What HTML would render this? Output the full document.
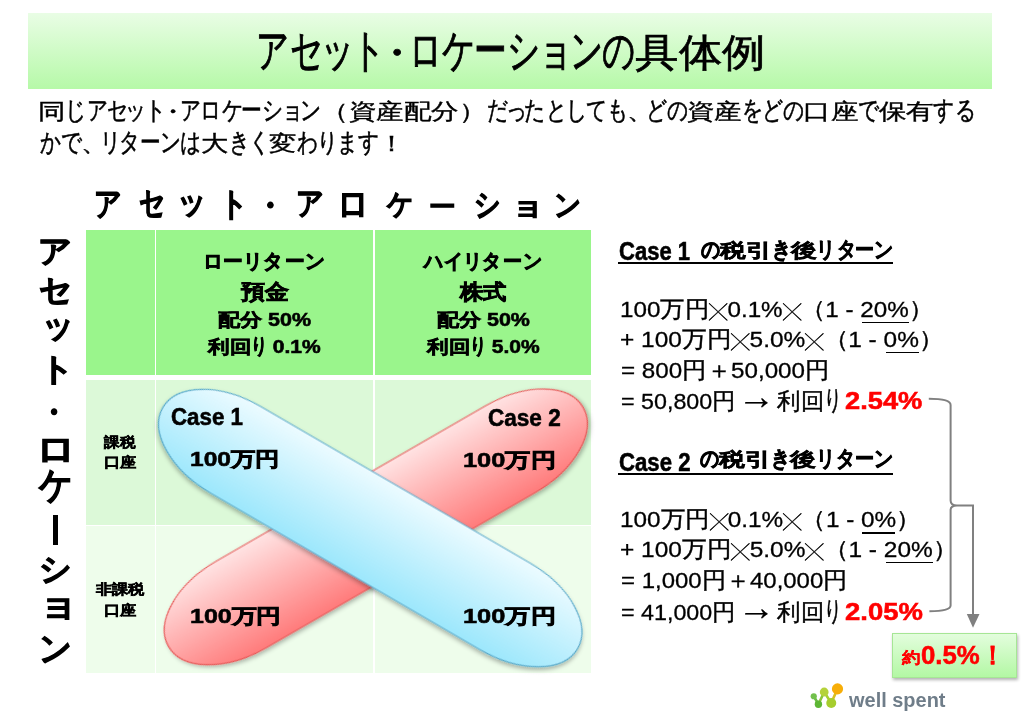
<!DOCTYPE html><html lang="ja"><head><meta charset="utf-8"><style>
html,body{margin:0;padding:0;background:#fff;}
body{width:1024px;height:718px;position:relative;overflow:hidden;font-family:"Liberation Sans",sans-serif;}
.t{position:absolute;white-space:nowrap;line-height:1.3;transform-origin:0 0;}
 .k,.s,.d,.p{display:inline-block;} .k i,.s i,.d i,.p i{display:inline-block;font-style:normal;} .k{width:.75em} .k i{font-size:1.17em;margin:0 -.19em;transform:scaleX(.64)} .s{width:.66em} .s i{font-size:1.17em;margin:0 -.23em;transform:scaleX(.64)} .d{width:.56em} .d i{margin:0 -.22em} .p{width:.7em} .p i{margin-right:-.3em}
.x{font-size:.74em} .ar{font-size:1.6em;margin:0 -.12em} .h,.d i,.p i{-webkit-text-stroke-width:var(--st)} .k i,.s i{-webkit-text-stroke-width:calc(var(--st)*1.35)} u{text-decoration:underline;text-decoration-thickness:1.5px;text-underline-offset:2px;}
</style></head><body><div style="position:absolute;left:28px;top:12.6px;width:964px;height:76px;background:linear-gradient(#e9fde5,#b6f9a8)"></div>
<div style="position:absolute;left:86px;top:230px;width:505.3px;height:442.8px;background:#fff"></div>
<div style="position:absolute;left:86px;top:230px;width:68.7px;height:145.4px;background:#9af58c"></div>
<div style="position:absolute;left:156px;top:230px;width:216.7px;height:145.4px;background:#9af58c"></div>
<div style="position:absolute;left:374.5px;top:230px;width:216.8px;height:145.4px;background:#9af58c"></div>
<div style="position:absolute;left:86px;top:379.6px;width:68.7px;height:145.2px;background:#dcf9d8"></div>
<div style="position:absolute;left:156px;top:379.6px;width:216.7px;height:145.2px;background:#dcf9d8"></div>
<div style="position:absolute;left:374.5px;top:379.6px;width:216.8px;height:145.2px;background:#dcf9d8"></div>
<div style="position:absolute;left:86px;top:526px;width:68.7px;height:146.8px;background:#eefdeb"></div>
<div style="position:absolute;left:156px;top:526px;width:216.7px;height:146.8px;background:#eefdeb"></div>
<div style="position:absolute;left:374.5px;top:526px;width:216.8px;height:146.8px;background:#eefdeb"></div>
<svg width="1024" height="718" style="position:absolute;left:0;top:0">
<defs>
<linearGradient id="gb" x1="0" y1="0" x2="0" y2="1"><stop offset="0" stop-color="#ecfbff"/><stop offset="1" stop-color="#9ce7fc"/></linearGradient>
<linearGradient id="gr" x1="0" y1="0" x2="0" y2="1"><stop offset="0" stop-color="#ffe3e3"/><stop offset="1" stop-color="#ff7b7b"/></linearGradient>
<filter id="sh" x="-10%" y="-30%" width="120%" height="160%"><feDropShadow dx="1" dy="2.5" stdDeviation="2" flood-color="#000" flood-opacity="0.3"/></filter>
</defs>
<path transform="translate(375.80,526.90) rotate(-29.98)" d="M-155.30,-50 L155.30,-50 A84,50 0 0 1 155.30,50 L-155.30,50 A84,50 0 0 1 -155.30,-50 Z" fill="url(#gr)" stroke="#e85555" stroke-width="1.2" filter="url(#sh)"/>
<path transform="translate(370.25,528.05) rotate(30.17)" d="M-155.85,-50 L155.85,-50 A84,50 0 0 1 155.85,50 L-155.85,50 A84,50 0 0 1 -155.85,-50 Z" fill="url(#gb)" stroke="#56aacc" stroke-width="1.2" filter="url(#sh)"/>
<path d="M928.8,398.8 Q950.6,398.8 950.6,405 L950.6,500.5 Q950.6,505.5 957,505.5 Q950.6,505.5 950.6,510 L950.6,605.5 Q950.6,611.2 929.4,611.2" fill="none" stroke="#808080" stroke-width="2"/>
<path d="M957,505.5 L973,505.5 L973,615" fill="none" stroke="#808080" stroke-width="2"/>
<path d="M966.8,614.1 L979.5,614.1 L973,627.8 Z" fill="#808080"/>
</svg>
<div style="position:absolute;left:892.3px;top:633.3px;width:122.7px;height:43.1px;background:linear-gradient(#e3fddd,#b3f8a4);border:1px solid #a6e695;box-shadow:1px 2px 3px rgba(0,0,0,.3)"></div>
<svg width="40" height="30" style="position:absolute;left:806px;top:682px" viewBox="806 682 40 30">
<g stroke-width="2.6" fill="none" stroke-linecap="round">
<path d="M813.75,696.25 L818.4,704.2" stroke="#6abd45"/>
<path d="M818.4,704.2 L824.2,692" stroke="#8cc53a"/>
<path d="M824.2,692 L831.25,703" stroke="#a8cf30"/>
<path d="M831.25,703 L837.5,688.9" stroke="#d8c020"/>
</g>
<circle cx="813.75" cy="696.25" r="3.1" fill="#72c04c"/>
<circle cx="818.4" cy="704.2" r="3.7" fill="#5db634"/>
<circle cx="824.2" cy="692" r="4.4" fill="#b5d23a"/>
<circle cx="831.25" cy="703" r="5" fill="#a6cd2e"/>
<circle cx="837.5" cy="688.9" r="5.6" fill="#f7ae08"/>
</svg>
<div class="t" id="title" style="left:257.20px;top:20.00px;font-size:39.49px;font-weight:400;color:#000;--st:0.71px;-webkit-text-stroke:0.3px #000;transform:scaleX(1.1108)"><span class=k><i>ア</i></span><span class=k><i>セ</i></span><span class=s><i>ッ</i></span><span class=k><i>ト</i></span><span class=d><i>・</i></span><span class=k><i>ロ</i></span><span class=k><i>ケ</i></span><span class=k><i>ー</i></span><span class=k><i>シ</i></span><span class=s><i>ョ</i></span><span class=k><i>ン</i></span><span class=k><i>の</i></span><span class=h>具</span><span class=h>体</span><span class=h>例</span></div><div class="t" id="sub1" style="left:38.30px;top:93.60px;font-size:21.80px;font-weight:400;color:#000;--st:0.39px;-webkit-text-stroke:0.3px #000;transform:scaleX(1.2508)"><span class=h>同</span><span class=k><i>じ</i></span><span class=k><i>ア</i></span><span class=k><i>セ</i></span><span class=s><i>ッ</i></span><span class=k><i>ト</i></span><span class=d><i>・</i></span><span class=k><i>ア</i></span><span class=k><i>ロ</i></span><span class=k><i>ケ</i></span><span class=k><i>ー</i></span><span class=k><i>シ</i></span><span class=s><i>ョ</i></span><span class=k><i>ン</i></span><span class=h>（</span><span class=h>資</span><span class=h>産</span><span class=h>配</span><span class=h>分</span><span class=h>）</span><span class=k><i>だ</i></span><span class=s><i>っ</i></span><span class=k><i>た</i></span><span class=k><i>と</i></span><span class=k><i>し</i></span><span class=k><i>て</i></span><span class=k><i>も</i></span><span class=p><i>、</i></span><span class=k><i>ど</i></span><span class=k><i>の</i></span><span class=h>資</span><span class=h>産</span><span class=k><i>を</i></span><span class=k><i>ど</i></span><span class=k><i>の</i></span><span class=h>口</span><span class=h>座</span><span class=k><i>で</i></span><span class=h>保</span><span class=h>有</span><span class=k><i>す</i></span><span class=k><i>る</i></span></div><div class="t" id="sub2" style="left:40.00px;top:126.00px;font-size:21.80px;font-weight:400;color:#000;--st:0.39px;-webkit-text-stroke:0.3px #000;transform:scaleX(1.2435)"><span class=k><i>か</i></span><span class=k><i>で</i></span><span class=p><i>、</i></span><span class=k><i>リ</i></span><span class=k><i>タ</i></span><span class=k><i>ー</i></span><span class=k><i>ン</i></span><span class=k><i>は</i></span><span class=h>大</span><span class=k><i>き</i></span><span class=k><i>く</i></span><span class=h>変</span><span class=k><i>わ</i></span><span class=k><i>り</i></span><span class=k><i>ま</i></span><span class=k><i>す</i></span><span class=h>！</span></div><div class="t" id="c1h" style="left:618.50px;top:234.80px;font-size:25.26px;font-weight:700;color:#000;--st:0.91px;-webkit-text-stroke:0.55px #000;transform:scaleX(0.8725)">Case 1</div><div class="t" id="c1hj" style="left:700.60px;top:235.50px;font-size:19.01px;font-weight:700;color:#000;--st:0.55px;-webkit-text-stroke:0.55px #000;transform:scaleX(1.3536)"><span class=k><i>の</i></span><span class=h>税</span><span class=h>引</span><span class=k><i>き</i></span><span class=h>後</span><span class=k><i>リ</i></span><span class=k><i>タ</i></span><span class=k><i>ー</i></span><span class=k><i>ン</i></span></div><div class="t" id="c1l1" style="left:620.10px;top:295.10px;font-size:22.79px;font-weight:400;color:#000;--st:0.41px;-webkit-text-stroke:0.3px #000;transform:scaleX(1.0636)">100<span class=h>万</span><span class=h>円</span><span class=x><span class=h>╳</span></span>0.1%<span class=x><span class=h>╳</span></span><span class=h>（</span>1 - 20%<span class=h>）</span></div><div class="t" id="c1l2" style="left:619.50px;top:325.00px;font-size:22.79px;font-weight:400;color:#000;--st:0.41px;-webkit-text-stroke:0.3px #000;transform:scaleX(1.0735)">+ 100<span class=h>万</span><span class=h>円</span><span class=x><span class=h>╳</span></span>5.0%<span class=x><span class=h>╳</span></span><span class=h>（</span>1 - 0%<span class=h>）</span></div><div class="t" id="c1l3" style="left:620.60px;top:355.50px;font-size:22.79px;font-weight:400;color:#000;--st:0.41px;-webkit-text-stroke:0.3px #000;transform:scaleX(1.0614)">= 800<span class=h>円</span><span class=h>＋</span>50,000<span class=h>円</span></div><div class="t" id="c1l4" style="left:621.00px;top:373.00px;font-size:22.79px;font-weight:400;color:#000;--st:0.41px;-webkit-text-stroke:0.3px #000;transform:scaleX(1.0217)">= 50,800<span class=h>円</span> <span class=ar>→</span> <span class=h>利</span><span class=h>回</span><span class=k><i>り</i></span></div><div class="t" id="c1r" style="left:844.70px;top:385.20px;font-size:24.62px;font-weight:700;color:#ff0000;--st:0.89px;-webkit-text-stroke:0.55px #ff0000;transform:scaleX(1.1081)">2.54%</div><div class="t" id="c2h" style="left:618.50px;top:446.00px;font-size:25.26px;font-weight:700;color:#000;--st:0.91px;-webkit-text-stroke:0.55px #000;transform:scaleX(0.8782)">Case 2</div><div class="t" id="c2hj" style="left:699.60px;top:445.40px;font-size:19.01px;font-weight:700;color:#000;--st:0.55px;-webkit-text-stroke:0.55px #000;transform:scaleX(1.3582)"><span class=k><i>の</i></span><span class=h>税</span><span class=h>引</span><span class=k><i>き</i></span><span class=h>後</span><span class=k><i>リ</i></span><span class=k><i>タ</i></span><span class=k><i>ー</i></span><span class=k><i>ン</i></span></div><div class="t" id="c2l1" style="left:619.60px;top:505.30px;font-size:22.79px;font-weight:400;color:#000;--st:0.41px;-webkit-text-stroke:0.3px #000;transform:scaleX(1.0670)">100<span class=h>万</span><span class=h>円</span><span class=x><span class=h>╳</span></span>0.1%<span class=x><span class=h>╳</span></span><span class=h>（</span>1 - 0%<span class=h>）</span></div><div class="t" id="c2l2" style="left:619.50px;top:535.20px;font-size:22.79px;font-weight:400;color:#000;--st:0.41px;-webkit-text-stroke:0.3px #000;transform:scaleX(1.0744)">+ 100<span class=h>万</span><span class=h>円</span><span class=x><span class=h>╳</span></span>5.0%<span class=x><span class=h>╳</span></span><span class=h>（</span>1 - 20%<span class=h>）</span></div><div class="t" id="c2l3" style="left:621.00px;top:566.00px;font-size:22.79px;font-weight:400;color:#000;--st:0.41px;-webkit-text-stroke:0.3px #000;transform:scaleX(1.0516)">= 1,000<span class=h>円</span><span class=h>＋</span>40,000<span class=h>円</span></div><div class="t" id="c2l4" style="left:621.00px;top:583.50px;font-size:22.79px;font-weight:400;color:#000;--st:0.41px;-webkit-text-stroke:0.3px #000;transform:scaleX(1.0217)">= 41,000<span class=h>円</span> <span class=ar>→</span> <span class=h>利</span><span class=h>回</span><span class=k><i>り</i></span></div><div class="t" id="c2r" style="left:844.70px;top:595.70px;font-size:24.62px;font-weight:700;color:#ff0000;--st:0.89px;-webkit-text-stroke:0.55px #ff0000;transform:scaleX(1.1151)">2.05%</div><div class="t" id="h1a" style="left:203.50px;top:247.70px;font-size:17.51px;font-weight:700;color:#000;--st:0.63px;-webkit-text-stroke:0.55px #000;transform:scaleX(1.5396)"><span class=k><i>ロ</i></span><span class=k><i>ー</i></span><span class=k><i>リ</i></span><span class=k><i>タ</i></span><span class=k><i>ー</i></span><span class=k><i>ン</i></span></div><div class="t" id="h1b" style="left:241.00px;top:279.10px;font-size:20.63px;font-weight:700;color:#000;--st:0.74px;-webkit-text-stroke:0.55px #000;transform:scaleX(1.1366)"><span class=h>預</span><span class=h>金</span></div><div class="t" id="h1c" style="left:217.50px;top:309.25px;font-size:17.54px;font-weight:700;color:#000;--st:0.63px;-webkit-text-stroke:0.55px #000;transform:scaleX(1.2240)"><span class=h>配</span><span class=h>分</span> 50%</div><div class="t" id="h1d" style="left:208.20px;top:332.85px;font-size:17.54px;font-weight:700;color:#000;--st:0.63px;-webkit-text-stroke:0.55px #000;transform:scaleX(1.1987)"><span class=h>利</span><span class=h>回</span><span class=k><i>り</i></span> 0.1%</div><div class="t" id="h2a" style="left:425.00px;top:247.70px;font-size:17.51px;font-weight:700;color:#000;--st:0.63px;-webkit-text-stroke:0.55px #000;transform:scaleX(1.4875)"><span class=k><i>ハ</i></span><span class=k><i>イ</i></span><span class=k><i>リ</i></span><span class=k><i>タ</i></span><span class=k><i>ー</i></span><span class=k><i>ン</i></span></div><div class="t" id="h2b" style="left:460.30px;top:279.10px;font-size:20.63px;font-weight:700;color:#000;--st:0.74px;-webkit-text-stroke:0.55px #000;transform:scaleX(1.1096)"><span class=h>株</span><span class=h>式</span></div><div class="t" id="h2c" style="left:436.80px;top:309.25px;font-size:17.54px;font-weight:700;color:#000;--st:0.63px;-webkit-text-stroke:0.55px #000;transform:scaleX(1.2236)"><span class=h>配</span><span class=h>分</span> 50%</div><div class="t" id="h2d" style="left:427.00px;top:332.85px;font-size:17.54px;font-weight:700;color:#000;--st:0.63px;-webkit-text-stroke:0.55px #000;transform:scaleX(1.1993)"><span class=h>利</span><span class=h>回</span><span class=k><i>り</i></span> 5.0%</div><div class="t" id="r1a" style="left:104.10px;top:434.45px;font-size:13.85px;font-weight:700;color:#000;--st:0.5px;-webkit-text-stroke:0.55px #000;transform:scaleX(1.1181)"><span class=h>課</span><span class=h>税</span></div><div class="t" id="r1b" style="left:104.00px;top:454.15px;font-size:13.85px;font-weight:700;color:#000;--st:0.5px;-webkit-text-stroke:0.55px #000;transform:scaleX(1.1615)"><span class=h>口</span><span class=h>座</span></div><div class="t" id="r2a" style="left:96.30px;top:581.45px;font-size:13.85px;font-weight:700;color:#000;--st:0.5px;-webkit-text-stroke:0.55px #000;transform:scaleX(1.1578)"><span class=h>非</span><span class=h>課</span><span class=h>税</span></div><div class="t" id="r2b" style="left:104.00px;top:601.85px;font-size:13.85px;font-weight:700;color:#000;--st:0.5px;-webkit-text-stroke:0.55px #000;transform:scaleX(1.1615)"><span class=h>口</span><span class=h>座</span></div><div class="t" id="cs1" style="left:171.00px;top:402.50px;font-size:23.00px;font-weight:700;color:#000;--st:0.83px;-webkit-text-stroke:0.55px #000;transform:scaleX(0.9699)">Case 1</div><div class="t" id="cs2" style="left:487.50px;top:403.80px;font-size:23.00px;font-weight:700;color:#000;--st:0.83px;-webkit-text-stroke:0.55px #000;transform:scaleX(0.9805)">Case 2</div><div class="t" id="m1" style="left:190.30px;top:446.20px;font-size:20.14px;font-weight:700;color:#000;--st:0.73px;-webkit-text-stroke:0.55px #000;transform:scaleX(1.2198)">100<span class=h>万</span><span class=h>円</span></div><div class="t" id="m2" style="left:462.50px;top:446.70px;font-size:20.14px;font-weight:700;color:#000;--st:0.73px;-webkit-text-stroke:0.55px #000;transform:scaleX(1.2610)">100<span class=h>万</span><span class=h>円</span></div><div class="t" id="m3" style="left:189.50px;top:603.20px;font-size:20.14px;font-weight:700;color:#000;--st:0.73px;-webkit-text-stroke:0.55px #000;transform:scaleX(1.2408)">100<span class=h>万</span><span class=h>円</span></div><div class="t" id="m4" style="left:462.50px;top:602.80px;font-size:20.14px;font-weight:700;color:#000;--st:0.73px;-webkit-text-stroke:0.55px #000;transform:scaleX(1.2610)">100<span class=h>万</span><span class=h>円</span></div><div class="t" id="logo" style="left:849.10px;top:686.80px;font-size:20.65px;font-weight:700;color:#6f7d89;--st:0.74px;-webkit-text-stroke:0px #6f7d89;transform:scaleX(0.9671)">well spent</div><div class="t" id="bx1" style="left:902.20px;top:646.60px;font-size:16.19px;font-weight:700;color:#ff0000;--st:0.1px;-webkit-text-stroke:0.55px #ff0000;transform:scaleX(1.1560)"><span class=h>約</span></div><div class="t" id="bx2" style="left:921.30px;top:638.10px;font-size:26.28px;font-weight:700;color:#ff0000;--st:0.1px;-webkit-text-stroke:0.55px #ff0000;transform:scaleX(0.9817)">0.5%<span class=h>！</span></div><div class="t" id="hh0" style="left:94.20px;top:182.60px;font-size:32.93px;font-weight:700;color:#000;--st:1.0px;-webkit-text-stroke:1.0px #000;transform:scaleX(0.8294)">ア</div><div class="t" id="hh1" style="left:139.20px;top:182.30px;font-size:32.54px;font-weight:700;color:#000;--st:1.0px;-webkit-text-stroke:1.0px #000;transform:scaleX(0.7824)">セ</div><div class="t" id="hh2" style="left:176.80px;top:181.00px;font-size:32.62px;font-weight:700;color:#000;--st:1.0px;-webkit-text-stroke:1.0px #000;transform:scaleX(0.8852)">ッ</div><div class="t" id="hh3" style="left:219.50px;top:183.00px;font-size:32.93px;font-weight:700;color:#000;--st:1.0px;-webkit-text-stroke:1.0px #000;transform:scaleX(0.8294)">ト</div><div class="t" id="hh4" style="left:254.80px;top:186.30px;font-size:30.99px;font-weight:700;color:#000;--st:1.0px;-webkit-text-stroke:1.0px #000;transform:scaleX(0.9690)">・</div><div class="t" id="hh5" style="left:296.10px;top:183.10px;font-size:31.53px;font-weight:700;color:#000;--st:1.0px;-webkit-text-stroke:1.0px #000;transform:scaleX(0.8593)">ア</div><div class="t" id="hh6" style="left:337.20px;top:182.30px;font-size:34.61px;font-weight:700;color:#000;--st:1.0px;-webkit-text-stroke:1.0px #000;transform:scaleX(0.8992)">ロ</div><div class="t" id="hh7" style="left:386.60px;top:185.10px;font-size:29.46px;font-weight:700;color:#000;--st:1.0px;-webkit-text-stroke:1.0px #000;transform:scaleX(0.8908)">ケ</div><div class="t" id="hh8" style="left:429.00px;top:193.00px;font-size:22.28px;font-weight:700;color:#000;--st:1.0px;-webkit-text-stroke:1.0px #000;transform:scaleX(1.2057)">ー</div><div class="t" id="hh9" style="left:474.40px;top:184.70px;font-size:30.84px;font-weight:700;color:#000;--st:1.0px;-webkit-text-stroke:1.0px #000;transform:scaleX(0.8462)">シ</div><div class="t" id="hh10" style="left:511.80px;top:187.90px;font-size:27.37px;font-weight:700;color:#000;--st:1.0px;-webkit-text-stroke:1.0px #000;transform:scaleX(1.1556)">ョ</div><div class="t" id="hh11" style="left:553.60px;top:184.80px;font-size:30.09px;font-weight:700;color:#000;--st:1.0px;-webkit-text-stroke:1.0px #000;transform:scaleX(0.8911)">ン</div><div class="t" id="vh0" style="left:38.20px;top:229.50px;font-size:32.39px;font-weight:700;color:#000;--st:1.0px;-webkit-text-stroke:1.0px #000;transform:scaleX(1.0458)">ア</div><div class="t" id="vh1" style="left:39.00px;top:268.50px;font-size:32.33px;font-weight:700;color:#000;--st:1.0px;-webkit-text-stroke:1.0px #000;transform:scaleX(1.0184)">セ</div><div class="t" id="vh2" style="left:41.80px;top:304.00px;font-size:33.80px;font-weight:700;color:#000;--st:1.0px;-webkit-text-stroke:1.0px #000;transform:scaleX(0.9387)">ッ</div><div class="t" id="vh3" style="left:39.60px;top:347.60px;font-size:32.39px;font-weight:700;color:#000;--st:1.0px;-webkit-text-stroke:1.0px #000;transform:scaleX(1.0458)">ト</div><div class="t" id="vh4" style="left:39.00px;top:390.50px;font-size:32.33px;font-weight:700;color:#000;--st:1.0px;-webkit-text-stroke:1.0px #000;transform:scaleX(0.9208)">・</div><div class="t" id="vh5" style="left:35.90px;top:427.20px;font-size:34.32px;font-weight:700;color:#000;--st:1.0px;-webkit-text-stroke:1.0px #000;transform:scaleX(1.1508)">ロ</div><div class="t" id="vh6" style="left:39.30px;top:460.20px;font-size:38.17px;font-weight:700;color:#000;--st:1.0px;-webkit-text-stroke:1.0px #000;transform:scaleX(0.8714)">ケ</div><div class="t" id="vh7" style="left:38.90px;top:547.50px;font-size:32.33px;font-weight:700;color:#000;--st:1.0px;-webkit-text-stroke:1.0px #000;transform:scaleX(1.0053)">シ</div><div class="t" id="vh8" style="left:38.80px;top:581.90px;font-size:34.68px;font-weight:700;color:#000;--st:1.0px;-webkit-text-stroke:1.0px #000;transform:scaleX(1.0989)">ョ</div><div class="t" id="vh9" style="left:39.20px;top:626.10px;font-size:34.39px;font-weight:700;color:#000;--st:1.0px;-webkit-text-stroke:1.0px #000;transform:scaleX(0.9535)">ン</div><div style="position:absolute;left:618px;top:262.2px;width:274.6px;height:1.8px;background:#000"></div>
<div style="position:absolute;left:618px;top:472.8px;width:274.6px;height:1.8px;background:#000"></div>
<div style="position:absolute;left:862.2px;top:321.8px;width:46.6px;height:1.4px;background:#000"></div>
<div style="position:absolute;left:886px;top:351.5px;width:33px;height:1.4px;background:#000"></div>
<div style="position:absolute;left:862.4px;top:532.4px;width:32.6px;height:1.4px;background:#000"></div>
<div style="position:absolute;left:886px;top:561.8px;width:46.7px;height:1.4px;background:#000"></div>
<div style="position:absolute;left:52.9px;top:515.2px;width:5px;height:30px;background:#000"></div>
</body></html>
